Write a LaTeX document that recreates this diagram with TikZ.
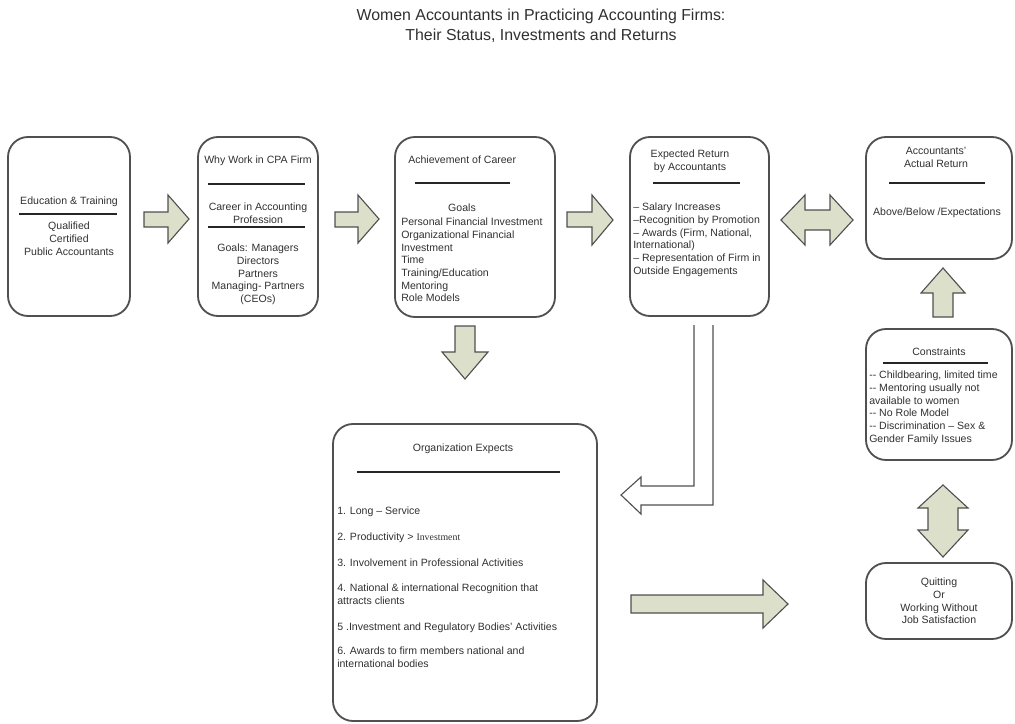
\documentclass[tikz,border=0pt]{standalone}
\usepackage{fontspec}
\setmainfont{Liberation Sans}
\newfontfamily\invfont{Liberation Serif}
\definecolor{arrowfill}{HTML}{DCE0CB}
\definecolor{edgegray}{HTML}{505050}
\definecolor{textgray}{HTML}{303030}
\tikzset{
  box/.style={draw=edgegray, line width=1.3pt, rounded corners=0.5cm},
  rulebar/.style={draw=black!85, line width=0.9pt},
  blockarrow/.style={draw=edgegray, fill=arrowfill, line width=0.8pt, line join=miter},
  txt/.style={text=textgray, font=\fontsize{7.5}{9}\selectfont, inner sep=0pt, align=center, anchor=north},
  lefttxt/.style={txt, align=left, anchor=north west}
}
\begin{document}
\begin{tikzpicture}[x=0.025cm, y=-0.025cm]
    \useasboundingbox (0,0) rectangle (1015,724);

    % Titulo
    \node[txt, font=\fontsize{11.3}{14}\selectfont] (title) at (541,9)
        {Women Accountants in Practicing Accounting Firms:\\Their Status, Investments and Returns};

    % Cajas
    \draw[box] (8,137) rectangle (130,316);
    \draw[box] (198,137) rectangle (318,316);
    \draw[box] (395,137) rectangle (555,317);
    \draw[box] (630,137) rectangle (769,316);
    \draw[box] (866,137) rectangle (1012,259);
    \draw[box] (866,329) rectangle (1012,460);
    \draw[box] (866,563) rectangle (1012,639);
    \draw[box] (333,424) rectangle (597,721);

    % Caja 1: formacion
    \node[txt] (edu) at (69,197) {Education \& Training};
    \draw[rulebar] (19,214) -- (117,214);
    \node[txt] (qual) at (69,222) {Qualified\\Certified\\Public Accountants};

    % Caja 2: por que una firma CPA
    \node[txt] (why) at (258,156) {Why Work in CPA Firm};
    \draw[rulebar] (208,184) -- (305,184);
    \node[txt] (career) at (258,203) {Career in Accounting\\Profession};
    \draw[rulebar] (208,227) -- (305,227);
    \node[txt] (goals) at (258,244) {Goals: Managers\\Directors\\Partners\\Managing- Partners\\(CEOs)};

    % Caja 3: logro de carrera
    \node[lefttxt] (achieve) at (408,156) {Achievement of Career};
    \draw[rulebar] (415,183) -- (510,183);
    \node[txt] (goalstitle) at (462,204) {Goals};
    \node[lefttxt] (invest) at (401,218) {Personal Financial Investment\\Organizational Financial\\Investment\\Time\\Training/Education\\Mentoring\\Role Models};

    % Caja 4: retorno esperado
    \node[txt] (expected) at (690,150) {Expected Return\\by Accountants};
    \draw[rulebar] (653,183) -- (740,183);
    \node[lefttxt] (returns) at (633,203) {-- Salary Increases\\--Recognition by Promotion\\-- Awards (Firm, National,\\International)\\-- Representation of Firm in\\Outside Engagements};

    % Caja 5: retorno real
    \node[txt] (actual) at (936,147) {Accountants'\\Actual Return};
    \draw[rulebar] (889,183) -- (985,183);
    \node[txt] (above) at (937,208) {Above/Below /Expectations};

    % Caja 6: restricciones
    \node[txt] (constr) at (939,348) {Constraints};
    \draw[rulebar] (883,363) -- (988,363);
    \node[lefttxt] (constrlist) at (869,371) {-{}- Childbearing, limited time\\-{}- Mentoring usually not\\available to women\\-{}- No Role Model\\-{}- Discrimination -- Sex \&\\Gender Family Issues};

    % Caja 7: abandono
    \node[txt] (quit) at (939,578) {Quitting\\Or\\Working Without\\Job Satisfaction};

    % Caja 8: la organizacion espera
    \node[txt] (orgexp) at (463,444) {Organization Expects};
    \draw[rulebar] (357,472) -- (560,472);
    \node[lefttxt] (exp1) at (337,507) {1. Long -- Service};
    \node[lefttxt] (exp2) at (337,533) {2. Productivity > {\invfont\fontsize{7}{8}\selectfont Investment}};
    \node[lefttxt] (exp3) at (337,559) {3. Involvement in Professional Activities};
    \node[lefttxt] (exp4) at (337,584) {4. National \& international Recognition that\\attracts clients};
    \node[lefttxt] (exp5) at (337,623) {5 .Investment and Regulatory Bodies' Activities};
    \node[lefttxt] (exp6) at (337,647) {6. Awards to firm members national and\\international bodies};

    % Flechas de bloque
    \draw[blockarrow] (144,212) -- (168,212) -- (168,195) -- (189,219) -- (168,243) -- (168,227) -- (144,227) -- cycle;
    \draw[blockarrow] (335,212) -- (358,212) -- (358,195) -- (379,219) -- (358,243) -- (358,227) -- (335,227) -- cycle;
    \draw[blockarrow] (567,212) -- (592,212) -- (592,195) -- (613,220) -- (592,245) -- (592,227) -- (567,227) -- cycle;

    % Flecha doble horizontal
    \draw[blockarrow] (781,220) -- (805,195) -- (805,210) -- (830,210) -- (830,195) -- (853,220)
        -- (830,245) -- (830,230) -- (805,230) -- (805,245) -- cycle;

    % Flecha hacia arriba
    \draw[blockarrow] (943,268) -- (965,293) -- (953,293) -- (953,317) -- (933,317) -- (933,293) -- (921,293) -- cycle;

    % Flecha hacia abajo
    \draw[blockarrow] (455,326) -- (475,326) -- (475,352) -- (488,352) -- (465,379) -- (442,352) -- (455,352) -- cycle;

    % Flecha doble vertical
    \draw[blockarrow] (943,485) -- (968,508) -- (958,508) -- (958,530) -- (968,530) -- (943,557)
        -- (918,530) -- (928,530) -- (928,508) -- (918,508) -- cycle;

    % Flecha grande a la derecha
    \draw[blockarrow] (631,595) -- (763,595) -- (763,580) -- (788,604) -- (763,628) -- (763,613) -- (631,613) -- cycle;

    % Flecha en L
    \draw[draw=edgegray, fill=white, line width=0.8pt, line join=miter]
        (694,325) -- (694,486) -- (641,486) -- (641,477) -- (621,495) -- (641,514) -- (641,505) -- (713,505) -- (713,325);
\end{tikzpicture}
\end{document}
